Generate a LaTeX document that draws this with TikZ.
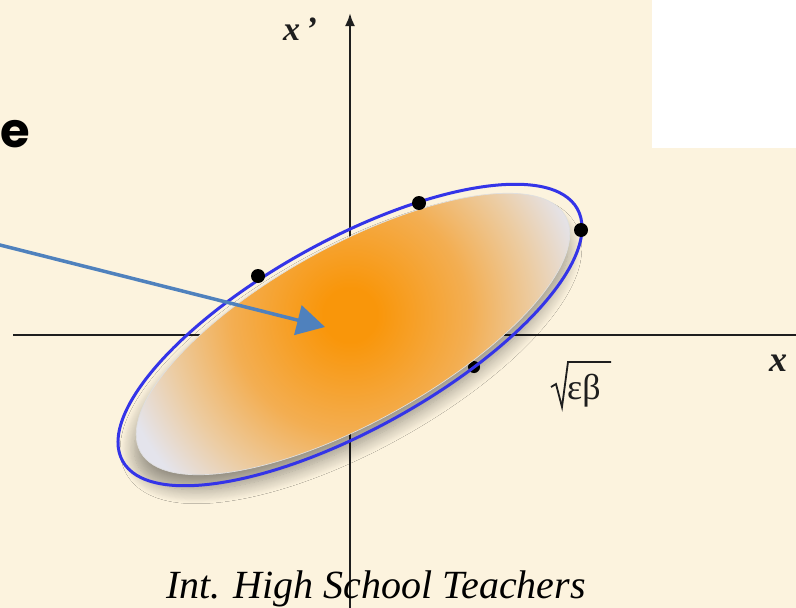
\documentclass[tikz,border=0pt]{standalone}
\usepackage{fontspec}
\setmainfont{Liberation Serif}
\newfontfamily\efont{Poppins}
\usetikzlibrary{arrows.meta,shadows.blur}
\definecolor{bg}{RGB}{252,243,222}
\definecolor{ocen}{RGB}{249,150,10}
\definecolor{omid}{RGB}{243,174,82}
\definecolor{olight}{RGB}{236,204,162}
\definecolor{oedge}{RGB}{228,228,236}
\definecolor{ringblue}{RGB}{52,52,232}
\definecolor{arrowblue}{RGB}{79,129,189}
\definecolor{ink}{RGB}{30,30,30}
\pgfdeclareradialshading{beamglow}{\pgfpoint{0bp}{0bp}}{color(0bp)=(ocen); color(2.6bp)=(ocen); color(11.4bp)=(omid); color(17.7bp)=(olight); color(23bp)=(oedge); color(50bp)=(oedge)}
\tikzset{
  axisline/.style={line width=2.4pt, draw=ink},
  ring/.style={line width=3pt, draw=ringblue},
  dotmark/.style={circle, fill=black, inner sep=0pt, minimum size=14pt},
  pointer/.style={line width=3.5pt, draw=arrowblue, -{Triangle[length=28pt,width=30pt]}},
  lab/.style={text=ink, inner sep=0pt},
  radical/.style={draw=ink, line width=1.8pt, line join=miter}
}
\begin{document}
\begin{tikzpicture}[x=1pt,y=-1pt]
\useasboundingbox (0,0) rectangle (796,608);
\fill[bg] (0,0) rectangle (796,608);
\fill[white] (652,0) rectangle (796,148);
\begin{scope}
\clip (0,0) rectangle (796,608);
% axes
\coordinate (O) at (350,335);
\coordinate (ytop) at (350,13);
\coordinate (ybot) at (350,615);
\coordinate (xl) at (13,335);
\coordinate (xr) at (805,335);
\coordinate (glow) at (350,315);
\draw[axisline, -{Latex[length=13pt,width=10pt]}] (ybot) -- (ytop);
\draw[axisline] (xl) -- (xr);
% hidden dot
\node[dotmark, minimum size=12pt] (d4) at (474,367) {};
% filled beam ellipse
\path[draw=white!75!gray, line width=0.7pt,
  blur shadow={shadow xshift=-2pt, shadow yshift=-15pt, shadow blur radius=14pt, shadow blur steps=16, shadow opacity=40},
  path picture={\shade[shading=beamglow] (glow) circle[radius=260];}]
  (353,334) ellipse[x radius=243, y radius=88, rotate=29];
% blue ring
\draw[ring] (O) ellipse[x radius=260, y radius=94.5, rotate=29];
% dots
\node[dotmark] (d1) at (258,276) {};
\node[dotmark] (d2) at (419,203) {};
\node[dotmark] (d3) at (581,230) {};
% labels
\node[lab, font=\fontsize{34}{38}\selectfont\bfseries\itshape] (xp) at (300,29) {x\,\textquoteright};
\node[lab, font=\fontsize{36}{40}\selectfont\bfseries\itshape] (xlab) at (778,363) {x};
\node[lab, font=\fontsize{36}{40}\selectfont, anchor=base west] (sq) at (567,399) {εβ};
\coordinate (r1) at (551,387);
\coordinate (r2) at (556,384);
\coordinate (r3) at (562,407);
\coordinate (r4) at (568,362);
\coordinate (r5) at (611,362);
\draw[radical] (r1) -- (r2) -- (r3) -- (r4) -- (r5);
\node[lab, font=\efont\fontsize{48}{52}\selectfont\bfseries, anchor=base west, text=black] (e) at (0,147) {e};
% pointer arrow
\coordinate (pstart) at (-4,244);
\coordinate (ptip) at (325,327);
\draw[pointer] (pstart) -- (ptip);
% caption
\node[lab, font=\fontsize{40}{46}\selectfont\itshape, anchor=base, text=black] (cap) at (376,598) {Int. High School Teachers};
\end{scope}
\end{tikzpicture}
\end{document}
